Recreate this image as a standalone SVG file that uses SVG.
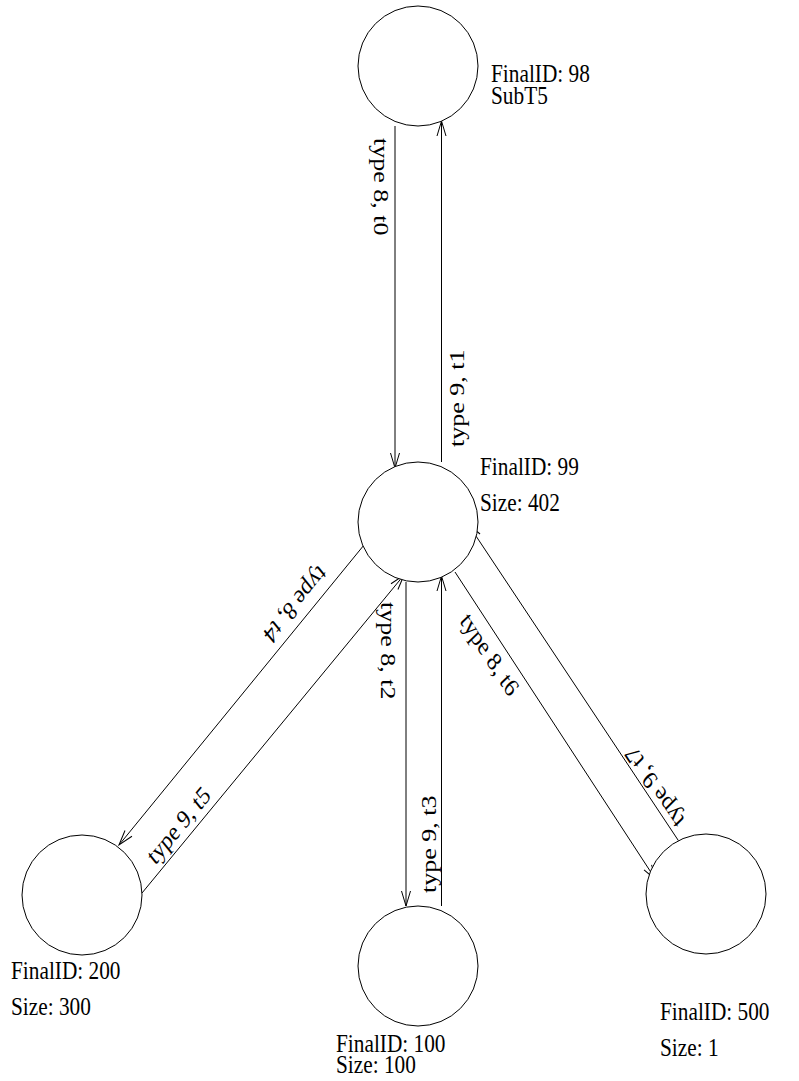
<svg xmlns="http://www.w3.org/2000/svg" width="799" height="1081" viewBox="0 0 799 1081">
<style>
.node{fill:#fff;stroke:#000;stroke-width:1}
.edge{fill:none;stroke:#000;stroke-width:1;marker-end:url(#ah)}
text{font-family:"Liberation Serif","Times New Roman",serif;font-size:26px;fill:#000}
</style>
<defs>
<marker id="ah" markerUnits="userSpaceOnUse" markerWidth="20" markerHeight="12" viewBox="-16 -6 20 12" refX="0" refY="0" orient="auto" overflow="visible">
<path d="M-15,-4.5 L0,0 L-15,4.5" fill="none" stroke="#000" stroke-width="1"/>
</marker>
</defs>
<rect width="799" height="1081" fill="#fff"/>
<g id="connectors">
<path class="edge" d="M395,126 L395,468"/>
<path class="edge" d="M441.5,462 L441.5,121"/>
<path class="edge" d="M364,545 L119,845"/>
<path class="edge" d="M142,893 L404,575"/>
<path class="edge" d="M406,582 L406,906"/>
<path class="edge" d="M441.5,906 L441.5,576"/>
<path class="edge" d="M455,572 L656,880"/>
<path class="edge" d="M682,846 L468,524"/>
<text transform="translate(374,138) scale(0.82,1) rotate(90)">type 8, t0</text>
<text transform="translate(464,447) scale(0.82,1) rotate(-90)">type 9, t1</text>
<text transform="translate(318.7,564.2) scale(0.82,1) rotate(134.9)">type 8, t4</text>
<text transform="translate(155.2,865.7) scale(0.82,1) rotate(-44.96)">type 9, t5</text>
<text transform="translate(381,602) scale(0.82,1) rotate(90)">type 8, t2</text>
<text transform="translate(436,893) scale(0.82,1) rotate(-90)">type 9, t3</text>
<text transform="translate(459.3,621.6) scale(0.82,1) rotate(51.5)">type 8, t6</text>
<text transform="translate(685,819.6) scale(0.82,1) rotate(-129.03)">type 9, t7</text>
</g>
<g id="n98">
<circle class="node" cx="418" cy="66" r="60"/>
<text transform="translate(491,82) scale(0.82,1)">FinalID: 98</text>
<text transform="translate(491,104) scale(0.82,1)">SubT5</text>
</g>
<g id="n99">
<circle class="node" cx="418" cy="522" r="60"/>
<text transform="translate(480,475) scale(0.82,1)">FinalID: 99</text>
<text transform="translate(480,511) scale(0.82,1)">Size: 402</text>
</g>
<g id="n200">
<circle class="node" cx="82" cy="895" r="60"/>
<text transform="translate(11,979) scale(0.82,1)">FinalID: 200</text>
<text transform="translate(11,1015) scale(0.82,1)">Size: 300</text>
</g>
<g id="n100">
<circle class="node" cx="418" cy="966" r="60"/>
<text transform="translate(336,1052) scale(0.82,1)">FinalID: 100</text>
<text transform="translate(336,1073) scale(0.82,1)">Size: 100</text>
</g>
<g id="n500">
<circle class="node" cx="706" cy="894" r="60"/>
<text transform="translate(660,1020) scale(0.82,1)">FinalID: 500</text>
<text transform="translate(660,1056) scale(0.82,1)">Size: 1</text>
</g>
</svg>
